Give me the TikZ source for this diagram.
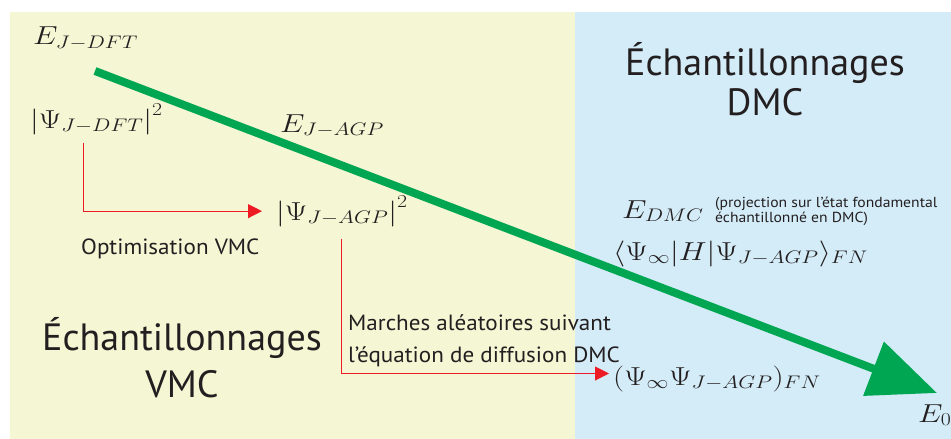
\RequirePackage{fix-cm}
\documentclass[tikz,border=0pt]{standalone}
\usepackage{fontspec}
\setsansfont{PT Sans}
\newfontfamily\labelfont[FakeStretch=1.05]{PT Sans}
\newfontfamily\notefont[FakeStretch=1.08]{PT Sans}
\usepackage{xcolor}
\usetikzlibrary{positioning, arrows.meta}

\definecolor{vmcyellow}{RGB}{245,246,212}
\definecolor{dmcblue}{RGB}{212,236,248}
\definecolor{pathgreen}{RGB}{0,166,81}
\definecolor{stepred}{RGB}{237,28,36}
\definecolor{inkgray}{RGB}{35,31,32}

\newcommand{\wmath}[1]{\scalebox{1.2}[1]{$#1$}}

\begin{document}
\begin{tikzpicture}[
      x=1pt, y=-1pt,
      title/.style={font=\sffamily\fontsize{38}{40}\selectfont, text=inkgray, align=center, inner sep=0pt, anchor=base},
      label/.style={font=\labelfont\fontsize{22}{32}\selectfont, text=inkgray, align=left, inner sep=0pt, anchor=base west},
      note/.style={font=\notefont\fontsize{14.5}{14.5}\selectfont, text=inkgray, align=left, inner sep=0pt, anchor=base west},
      energy/.style={font=\fontsize{26}{30}\selectfont, text=inkgray, inner sep=0pt, anchor=base west},
      redarr/.style={draw=stepred, line width=1pt, -{Triangle[length=14pt, width=14pt]}},
      greenarr/.style={draw=pathgreen, line width=8pt, -{Triangle[length=68pt, width=56pt]}}
    ]
    \useasboundingbox (0,0) rectangle (951,439);
    % the two sampling regions
    \fill[vmcyellow] (10,12) rectangle (575,439);
    \fill[dmcblue] (575,12) rectangle (951,439);

    \node[title, font=\sffamily\fontsize{38}{47}\selectfont] (vmc) at (182,397) {Échantillonnages\\VMC};
    \node[title] (dmc) at (765,115) {Échantillonnages\\DMC};

    % energy levels
    \coordinate (gstart) at (95,71);
    \coordinate (gend) at (937,393);
    \draw[greenarr] (gstart) -- (gend);

    \node[energy] (edft) at (33,45) {\wmath{E_{J-DFT}}};
    \node[energy] (psidft) at (30,128) {\wmath{\left|\Psi_{J-DFT}\right|^2}};
    \node[energy] (eagp) at (280,132) {\wmath{E_{J-AGP}}};
    \node[energy] (psiagp) at (276,220) {\wmath{\left|\Psi_{J-AGP}\right|^2}};
    \node[energy] (edmc) at (622,218) {\wmath{E_{DMC}}};
    \node[note] (proj) at (715,222) {(projection sur l’état fondamental\\échantillonné en DMC)};
    \node[energy] (bracket) at (613,260) {\wmath{\langle\Psi_\infty|H|\Psi_{J-AGP}\rangle_{FN}}};
    \node[energy] (mixed) at (613,385) {\wmath{(\Psi_\infty\Psi_{J-AGP})_{FN}}};
    \node[energy] (ezero) at (918,422) {\wmath{E_0}};

    \node[label] (opt) at (81,254) {Optimisation VMC};
    \node[label] (walk) at (348,362) {Marches aléatoires suivant\\l’équation de diffusion DMC};

    \draw[redarr, shorten <=8pt, shorten >=14pt] ([xshift=-13pt]psidft.south) |- (psiagp.west);
    \draw[redarr, shorten <=12pt, shorten >=4pt] (psiagp.south) |- ([yshift=5pt]mixed.west);
  \end{tikzpicture}
\end{document}
